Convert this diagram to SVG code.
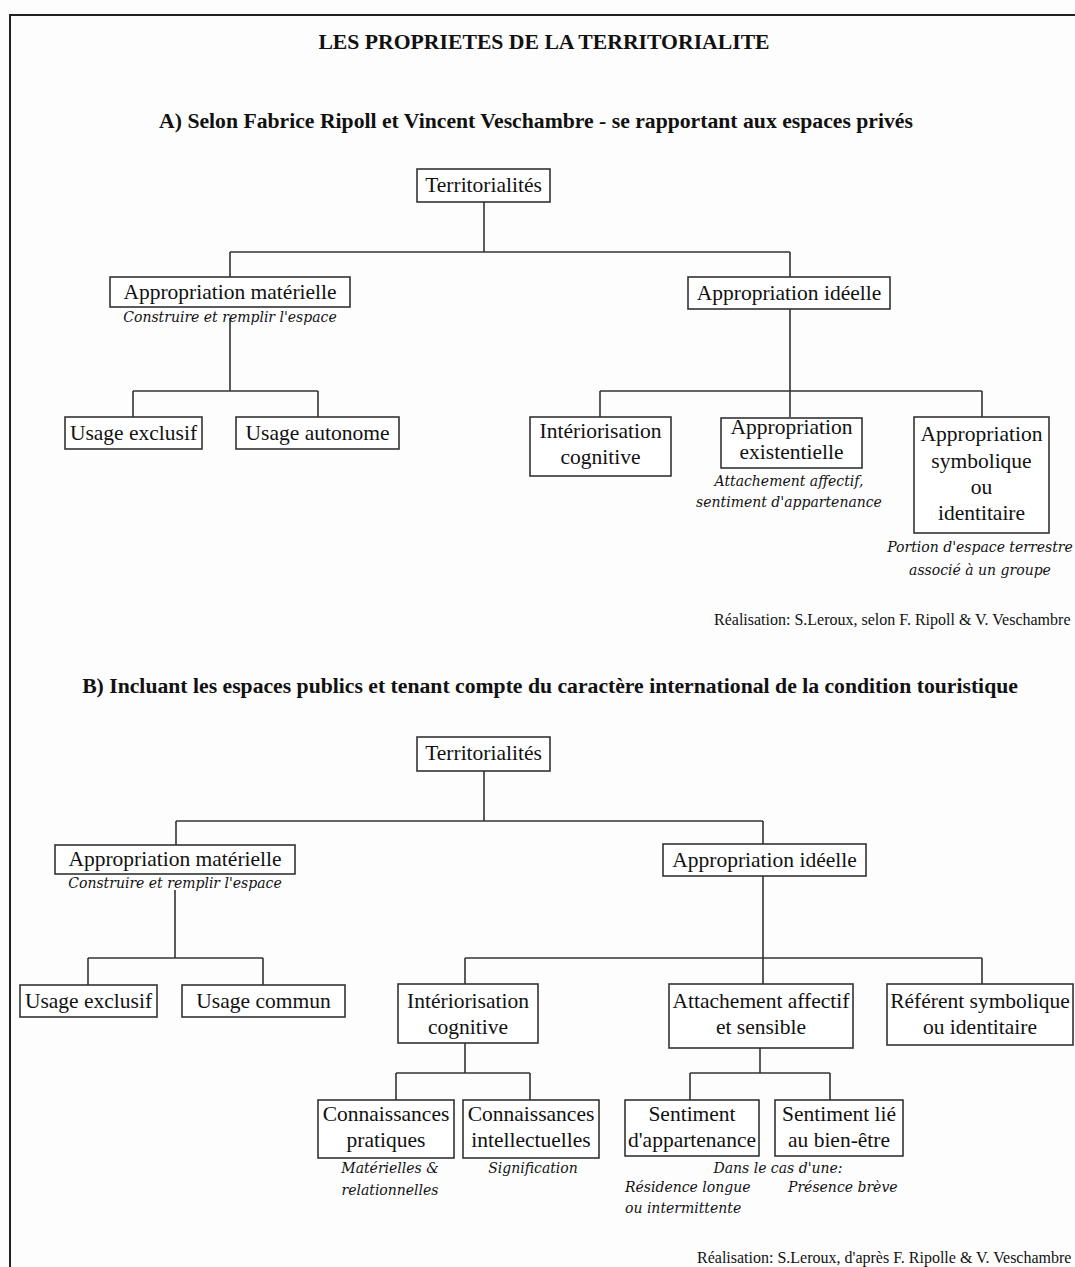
<svg xmlns="http://www.w3.org/2000/svg" width="1075" height="1267" viewBox="0 0 1075 1267">
<style>
  .bg{fill:#fdfdfd}
  .frame{stroke:#222;stroke-width:2;fill:none}
  .box{fill:#fff;stroke:#333;stroke-width:1.6}
  .conn line{stroke:#333;stroke-width:1.6}
  .t{font-family:"Liberation Serif","Times New Roman",serif;font-size:21.5px;fill:#111;text-anchor:middle}
  .h{font-family:"Liberation Serif","Times New Roman",serif;font-size:21.7px;font-weight:bold;fill:#111;text-anchor:middle}
  .i{font-family:"DejaVu Serif",serif;font-style:italic;font-size:14px;fill:#111;text-anchor:middle}
  .is{font-family:"DejaVu Serif",serif;font-style:italic;font-size:14px;fill:#111}
  .r{font-family:"Liberation Serif","Times New Roman",serif;font-size:16px;fill:#111}
</style>
<rect class="bg" x="0" y="0" width="1075" height="1267"/>
<path class="frame" d="M10,1267 V15 H1075"/>

<text class="h" x="544" y="49">LES PROPRIETES DE LA TERRITORIALITE</text>
<text class="h" x="536" y="128">A) Selon Fabrice Ripoll et Vincent Veschambre - se rapportant aux espaces privés</text>

<g id="connectors" class="conn">
  <!-- Part A -->
  <line x1="484" y1="202" x2="484" y2="252"/>
  <line x1="230" y1="252" x2="790" y2="252"/>
  <line x1="230" y1="252" x2="230" y2="277"/>
  <line x1="790" y1="252" x2="790" y2="277"/>
  <line x1="230" y1="318" x2="230" y2="391"/>
  <line x1="133" y1="391" x2="318" y2="391"/>
  <line x1="133" y1="391" x2="133" y2="417"/>
  <line x1="318" y1="391" x2="318" y2="417"/>
  <line x1="790" y1="309" x2="790" y2="417"/>
  <line x1="600" y1="391" x2="982" y2="391"/>
  <line x1="600" y1="391" x2="600" y2="417"/>
  <line x1="982" y1="391" x2="982" y2="417"/>
  <!-- Part B -->
  <line x1="484" y1="771" x2="484" y2="821"/>
  <line x1="176" y1="821" x2="763" y2="821"/>
  <line x1="176" y1="821" x2="176" y2="845"/>
  <line x1="763" y1="821" x2="763" y2="844"/>
  <line x1="175" y1="890" x2="175" y2="958"/>
  <line x1="88" y1="958" x2="263" y2="958"/>
  <line x1="88" y1="958" x2="88" y2="985"/>
  <line x1="263" y1="958" x2="263" y2="985"/>
  <line x1="763" y1="876" x2="763" y2="984"/>
  <line x1="465" y1="958" x2="982" y2="958"/>
  <line x1="465" y1="958" x2="465" y2="984"/>
  <line x1="982" y1="958" x2="982" y2="984"/>
  <line x1="465" y1="1043" x2="465" y2="1073"/>
  <line x1="396" y1="1073" x2="530" y2="1073"/>
  <line x1="396" y1="1073" x2="396" y2="1100"/>
  <line x1="530" y1="1073" x2="530" y2="1100"/>
  <line x1="760" y1="1048" x2="760" y2="1073"/>
  <line x1="690" y1="1073" x2="830" y2="1073"/>
  <line x1="690" y1="1073" x2="690" y2="1100"/>
  <line x1="830" y1="1073" x2="830" y2="1100"/>
</g>

<!-- Part A nodes -->
<g id="a-territorialites">
  <rect class="box" x="417" y="169" width="133" height="33"/>
  <text class="t" x="483.5" y="192">Territorialités</text>
</g>
<g id="a-materielle">
  <rect class="box" x="110" y="277" width="240" height="30"/>
  <text class="t" x="230" y="299">Appropriation matérielle</text>
  <text class="i" x="230" y="322">Construire et remplir l'espace</text>
</g>
<g id="a-ideelle">
  <rect class="box" x="688" y="277" width="202" height="32"/>
  <text class="t" x="789" y="300">Appropriation idéelle</text>
</g>
<g id="a-usage-exclusif">
  <rect class="box" x="65" y="417" width="137" height="32"/>
  <text class="t" x="133.5" y="440">Usage exclusif</text>
</g>
<g id="a-usage-autonome">
  <rect class="box" x="236" y="417" width="163" height="32"/>
  <text class="t" x="317.5" y="440">Usage autonome</text>
</g>
<g id="a-interiorisation">
  <rect class="box" x="530" y="417" width="141" height="59"/>
  <text class="t" x="600.5" y="438">Intériorisation</text>
  <text class="t" x="600.5" y="464">cognitive</text>
</g>
<g id="a-existentielle">
  <rect class="box" x="721" y="418" width="141" height="50"/>
  <text class="t" x="791.5" y="434">Appropriation</text>
  <text class="t" x="791.5" y="459">existentielle</text>
  <text class="i" x="789" y="486">Attachement affectif,</text>
  <text class="i" x="789" y="507">sentiment d'appartenance</text>
</g>
<g id="a-symbolique">
  <rect class="box" x="914" y="417" width="135" height="116"/>
  <text class="t" x="981.5" y="441">Appropriation</text>
  <text class="t" x="981.5" y="468">symbolique</text>
  <text class="t" x="981.5" y="494">ou</text>
  <text class="t" x="981.5" y="520">identitaire</text>
  <text class="i" x="980" y="552">Portion d'espace terrestre</text>
  <text class="i" x="980" y="575">associé à un groupe</text>
</g>
<text class="r" x="714" y="625">Réalisation: S.Leroux, selon F. Ripoll &amp; V. Veschambre</text>

<text class="h" x="550" y="693">B) Incluant les espaces publics et tenant compte du caractère international de la condition touristique</text>

<!-- Part B nodes -->
<g id="b-territorialites">
  <rect class="box" x="417" y="737" width="133" height="34"/>
  <text class="t" x="483.5" y="760">Territorialités</text>
</g>
<g id="b-materielle">
  <rect class="box" x="55" y="845" width="240" height="29"/>
  <text class="t" x="175" y="866">Appropriation matérielle</text>
  <text class="i" x="175" y="888">Construire et remplir l'espace</text>
</g>
<g id="b-ideelle">
  <rect class="box" x="663" y="844" width="203" height="32"/>
  <text class="t" x="764.5" y="867">Appropriation idéelle</text>
</g>
<g id="b-usage-exclusif">
  <rect class="box" x="20" y="985" width="137" height="32"/>
  <text class="t" x="88.5" y="1008">Usage exclusif</text>
</g>
<g id="b-usage-commun">
  <rect class="box" x="182" y="985" width="163" height="32"/>
  <text class="t" x="263.5" y="1008">Usage commun</text>
</g>
<g id="b-interiorisation">
  <rect class="box" x="398" y="984" width="140" height="59"/>
  <text class="t" x="468" y="1008">Intériorisation</text>
  <text class="t" x="468" y="1034">cognitive</text>
</g>
<g id="b-attachement">
  <rect class="box" x="669" y="984" width="184" height="64"/>
  <text class="t" x="761" y="1008">Attachement affectif</text>
  <text class="t" x="761" y="1034">et sensible</text>
</g>
<g id="b-referent">
  <rect class="box" x="887" y="984" width="186" height="61"/>
  <text class="t" x="980" y="1008">Référent symbolique</text>
  <text class="t" x="980" y="1034">ou identitaire</text>
</g>
<g id="b-conn-pratiques">
  <rect class="box" x="318" y="1100" width="136" height="58"/>
  <text class="t" x="386" y="1121">Connaissances</text>
  <text class="t" x="386" y="1147">pratiques</text>
  <text class="i" x="390" y="1173">Matérielles &amp;</text>
  <text class="i" x="390" y="1195">relationnelles</text>
</g>
<g id="b-conn-intellectuelles">
  <rect class="box" x="463" y="1100" width="136" height="58"/>
  <text class="t" x="531" y="1121">Connaissances</text>
  <text class="t" x="531" y="1147">intellectuelles</text>
  <text class="i" x="533" y="1173">Signification</text>
</g>
<g id="b-appartenance">
  <rect class="box" x="625" y="1100" width="134" height="56"/>
  <text class="t" x="692" y="1121">Sentiment</text>
  <text class="t" x="692" y="1147">d'appartenance</text>
  <text class="is" x="625" y="1192">Résidence longue</text>
  <text class="is" x="625" y="1213">ou intermittente</text>
</g>
<g id="b-bien-etre">
  <rect class="box" x="775" y="1100" width="128" height="56"/>
  <text class="t" x="839" y="1121">Sentiment lié</text>
  <text class="t" x="839" y="1147">au bien-être</text>
  <text class="is" x="788" y="1192">Présence brève</text>
</g>
<text class="i" x="778" y="1173">Dans le cas d'une:</text>
<text class="r" x="697" y="1263">Réalisation: S.Leroux, d'après F. Ripolle &amp; V. Veschambre</text>
</svg>
